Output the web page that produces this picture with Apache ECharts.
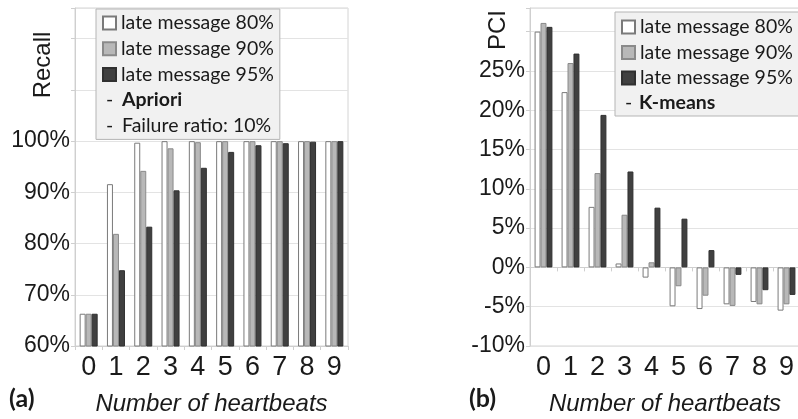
<!DOCTYPE html>
<html>
<head>
<meta charset="utf-8">
<script src="https://cdn.jsdelivr.net/npm/echarts@6/dist/echarts.min.js"></script>
<style>
html,body{margin:0;padding:0;background:#fff;}
#c{width:798px;height:419px;}
</style>
</head>
<body>
<div id="c"></div>
<script>
// ---- data ----
const categories = ['0','1','2','3','4','5','6','7','8','9'];
const seriesNames = ['late message 80%','late message 90%','late message 95%'];
// (a) Recall, Apriori, failure ratio 10%
const recall80 = [66.3, 91.6, 99.7, 100, 100, 100, 100, 100, 100, 100];
const recall90 = [66.3, 81.9, 94.2, 98.6, 99.8, 100, 100, 100, 100, 100];
const recall95 = [66.3, 74.8, 83.3, 90.4, 94.8, 97.9, 99.2, 99.6, 99.9, 100];
// (b) PCI, K-means
const pci80 = [30.0, 22.3, 7.7, 0.5, -1.3, -4.95, -5.3, -4.7, -4.4, -5.5];
const pci90 = [31.1, 26.0, 12.0, 6.7, 0.65, -2.4, -3.6, -4.9, -4.7, -4.7];
const pci95 = [30.6, 27.2, 19.4, 12.2, 7.6, 6.2, 2.2, -0.95, -2.9, -3.5];
const recallTicksMax = 100;
const pciTicksMax = 25;

const fills = ['#ffffff', '#b8b8b8', '#404040'];
const borders = ['#7a7a7a', '#8a8a8a', '#303030'];
const labelFont = "'Liberation Sans', Arial, sans-serif";
const legendFont = 'Lato';
const ink = '#1a1a1a';

function bars(data, xi, yi) {
  return [data[0], data[1], data[2]].map((d, i) => ({
    name: seriesNames[i],
    type: 'bar',
    xAxisIndex: xi,
    yAxisIndex: yi,
    data: d,
    barWidth: '22%',
    barGap: '0%',
    itemStyle: { color: fills[i], borderColor: borders[i], borderWidth: 1 },
    silent: true,
    animation: false
  }));
}

const chart = echarts.init(document.getElementById('c'), null, { renderer: 'canvas' });

const gridStyle = { show: true, borderColor: '#d4d4d4', borderWidth: 1, backgroundColor: 'transparent', containLabel: false, outerBoundsMode: 'none' };

function txt(x, y, text, font, extra) {
  return Object.assign({
    type: 'text', x: x, y: y, z: 100, zlevel: 0,
    style: { text: text, font: font, fill: ink, textVerticalAlign: 'middle', verticalAlign: 'middle' }
  }, extra || {});
}

const option = {
  animation: false,
  grid: [
    Object.assign({ left: 75, right: 450, top: 8, bottom: 73 }, gridStyle),
    Object.assign({ left: 530, right: -2, top: 8, bottom: 73 }, gridStyle)
  ],
  xAxis: [
    {
      type: 'category', gridIndex: 0, data: categories, boundaryGap: true,
      axisLine: { show: true, onZero: false, lineStyle: { color: '#cfcfcf' } },
      axisTick: { show: true, length: 4, lineStyle: { color: '#cfcfcf' } },
      axisLabel: { fontFamily: labelFont, fontSize: 27, color: ink, margin: 8 },
      name: 'Number of heartbeats', nameLocation: 'middle', nameGap: 46,
      nameTextStyle: { fontFamily: labelFont, fontSize: 24, fontStyle: 'italic', color: ink }
    },
    {
      type: 'category', gridIndex: 1, data: categories, boundaryGap: true, position: 'bottom',
      axisLine: { show: false, onZero: false },
      axisTick: { show: false },
      axisLabel: { fontFamily: labelFont, fontSize: 27, color: ink, margin: 8 },
      name: 'Number of heartbeats', nameLocation: 'middle', nameGap: 46,
      nameTextStyle: { fontFamily: labelFont, fontSize: 24, fontStyle: 'italic', color: ink }
    },
    {
      type: 'category', gridIndex: 1, data: categories, boundaryGap: true, position: 'bottom',
      axisLine: { show: true, onZero: true, lineStyle: { color: '#cfcfcf' } },
      axisTick: { show: true, length: 4, lineStyle: { color: '#cfcfcf' } },
      axisLabel: { show: false }
    }
  ],
  yAxis: [
    {
      type: 'value', gridIndex: 0, min: 60, max: 126, interval: 10,
      axisLine: { show: true, lineStyle: { color: '#cfcfcf' } },
      axisTick: { show: true, length: 4, lineStyle: { color: '#cfcfcf' } },
      splitLine: { show: true, lineStyle: { color: '#e3e3e3' } },
      axisLabel: {
        fontFamily: labelFont, fontSize: 23, color: ink, margin: 5,
        formatter: v => (v <= recallTicksMax ? v + '%' : '')
      }
    },
    {
      type: 'value', gridIndex: 1, min: -10, max: 33, interval: 5,
      axisLine: { show: true, lineStyle: { color: '#cfcfcf' } },
      axisTick: { show: true, length: 4, lineStyle: { color: '#cfcfcf' } },
      splitLine: { show: true, lineStyle: { color: '#e3e3e3' } },
      axisLabel: {
        fontFamily: labelFont, fontSize: 23, color: ink, margin: 5,
        formatter: v => (v <= pciTicksMax ? v + '%' : '')
      }
    }
  ],
  legend: [
    {
      data: seriesNames, orient: 'vertical', left: 96, top: 9,
      padding: [4, 6, 55, 6], itemWidth: 13, itemHeight: 13, itemGap: 5.7,
      icon: 'rect', itemTextGap: 5, selectedMode: false,
      backgroundColor: '#f1f1f1', borderColor: '#b5b5b5', borderWidth: 1,
      textStyle: { fontFamily: legendFont, fontSize: 19.5, lineHeight: 20, color: ink }
    },
    {
      data: seriesNames, orient: 'vertical', left: 615, top: 12,
      padding: [5, 6, 28, 6], itemGap: 5.5, itemWidth: 13, itemHeight: 13,
      icon: 'rect', itemTextGap: 5, selectedMode: false,
      backgroundColor: '#f1f1f1', borderColor: '#b5b5b5', borderWidth: 1,
      textStyle: { fontFamily: legendFont, fontSize: 19.5, lineHeight: 20, color: ink }
    }
  ],
  graphic: [
    txt(106, 100, '-', '19.5px Lato'),
    txt(122, 100, 'Apriori', 'bold 19.5px Lato'),
    txt(106, 126, '-', '19.5px Lato'),
    txt(122, 126, 'Failure ratio: 10%', '19.5px Lato'),
    txt(625, 103, '-', '19.5px Lato'),
    txt(639, 103, 'K-means', 'bold 19.5px Lato'),
    txt(9, 399, '(a)', 'bold 25px Lato'),
    txt(469, 399, '(b)', 'bold 25px Lato'),
    {
      type: 'text', x: 43, y: 65, rotation: Math.PI / 2, z: 100,
      style: { text: 'Recall', font: "24px 'Liberation Sans'", fill: ink, align: 'center', verticalAlign: 'middle' }
    },
    {
      type: 'text', x: 498, y: 30, rotation: Math.PI / 2, z: 100,
      style: { text: 'PCI', font: "24px 'Liberation Sans'", fill: ink, align: 'center', verticalAlign: 'middle' }
    }
  ],
  series: [].concat(
    bars([recall80, recall90, recall95], 0, 0),
    bars([pci80, pci90, pci95], 1, 1)
  )
};
chart.setOption(option);
</script>
</body>
</html>
